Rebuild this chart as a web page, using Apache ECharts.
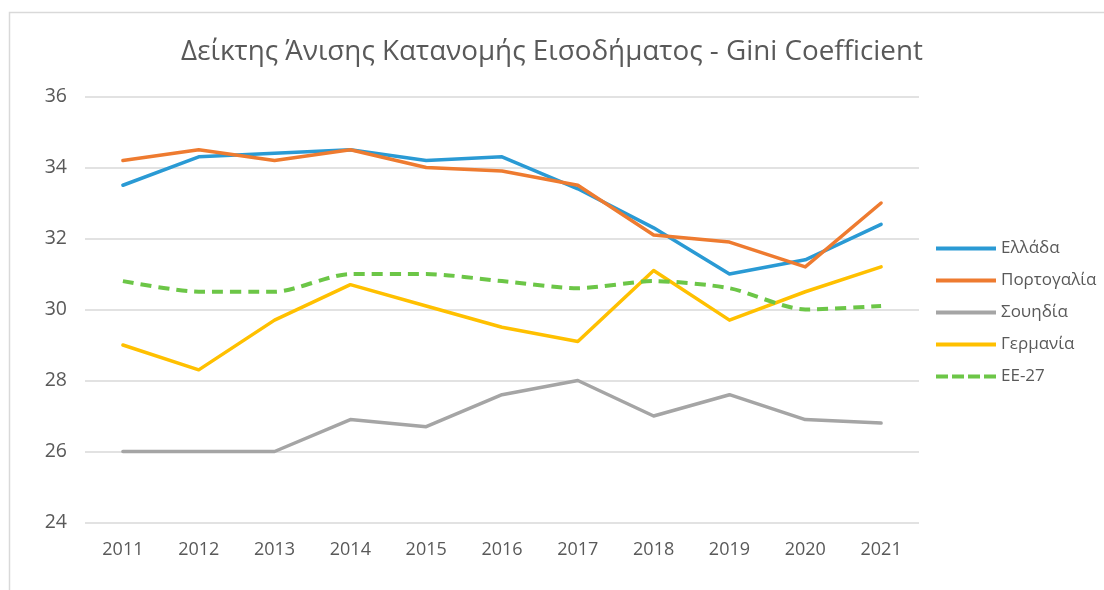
<!DOCTYPE html>
<html>
<head>
<meta charset="utf-8">
<script src="https://cdn.jsdelivr.net/npm/echarts@6/dist/echarts.min.js"></script>
<style>
  html, body { margin: 0; padding: 0; background: #ffffff; }
  #chart { width: 1104px; height: 590px; }
</style>
</head>
<body>
<div id="chart"></div>
<script>
// Gini coefficient of equivalised disposable income, 2011–2021
const years = ['2011', '2012', '2013', '2014', '2015', '2016', '2017', '2018', '2019', '2020', '2021'];
const greece   = [33.5, 34.3, 34.4, 34.5, 34.2, 34.3, 33.4, 32.3, 31.0, 31.4, 32.4];
const portugal = [34.2, 34.5, 34.2, 34.5, 34.0, 33.9, 33.5, 32.1, 31.9, 31.2, 33.0];
const sweden   = [26.0, 26.0, 26.0, 26.9, 26.7, 27.6, 28.0, 27.0, 27.6, 26.9, 26.8];
const germany  = [29.0, 28.3, 29.7, 30.7, 30.1, 29.5, 29.1, 31.1, 29.7, 30.5, 31.2];
const eu27     = [30.8, 30.5, 30.5, 31.0, 31.0, 30.8, 30.6, 30.8, 30.6, 30.0, 30.1];

const seriesNames = ['Ελλάδα', 'Πορτογαλία', 'Σουηδία', 'Γερμανία', 'ΕΕ-27'];
const titleText = 'Δείκτης Άνισης Κατανομής Εισοδήματος - Gini Coefficient';

const FONT = '"Open Sans", "Noto Sans", sans-serif';
const TEXT = '#595959';

// legend keys: a thick solid bar, and a four-dash bar for the dashed series
const SOLID_KEY = 'path://M0,0h60v4h-60z';
const DASH_KEY = 'path://M0,0h12v4h-12z M16,0h12v4h-12z M32,0h12v4h-12z M48,0h12v4h-12z';

function lineSeries(name, data, color, extra) {
  return Object.assign({
    name: name,
    type: 'line',
    data: data,
    symbol: 'none',
    lineStyle: { color: color, width: 3.5, cap: 'round', join: 'round' },
    itemStyle: { color: color },
    emphasis: { disabled: true },
    z: 3
  }, extra || {});
}

const chart = echarts.init(document.getElementById('chart'), null, { renderer: 'canvas' });

chart.setOption({
  animation: false,
  backgroundColor: '#ffffff',
  textStyle: { fontFamily: FONT },
  graphic: [{
    type: 'rect',
    shape: { x: 9.5, y: 12.5, width: 1200, height: 700 },
    style: { fill: null, stroke: '#d9d9d9', lineWidth: 1.5 },
    silent: true
  }],
  title: {
    text: titleText,
    left: 'center',
    top: 33,
    textStyle: { fontFamily: FONT, fontSize: 27.8, fontWeight: 'normal', color: TEXT }
  },
  legend: {
    orient: 'vertical',
    left: 936,
    top: 240,
    padding: 0,
    itemWidth: 60,
    itemHeight: 4,
    itemGap: 15,
    data: seriesNames.map((n, i) => ({ name: n, icon: i === 4 ? DASH_KEY : SOLID_KEY })),
    itemStyle: { borderWidth: 0 },
    lineStyle: { width: 0, opacity: 0 },
    textStyle: { fontFamily: FONT, fontSize: 17, lineHeight: 16, color: TEXT }
  },
  grid: { left: 85, right: 185, top: 96.5, bottom: 67.5, containLabel: false },
  xAxis: {
    type: 'category',
    data: years,
    boundaryGap: true,
    axisLine: { show: false },
    axisTick: { show: false },
    axisLabel: { color: TEXT, fontSize: 18, fontFamily: FONT, margin: 18 }
  },
  yAxis: {
    type: 'value',
    min: 24,
    max: 36,
    interval: 2,
    axisLine: { show: false },
    axisTick: { show: false },
    axisLabel: { color: TEXT, fontSize: 19.5, fontFamily: FONT, margin: 18 },
    splitLine: { lineStyle: { color: '#d9d9d9', width: 1.5 } }
  },
  series: [
    lineSeries(seriesNames[0], greece, '#2A9AD4'),
    lineSeries(seriesNames[1], portugal, '#EE7B30'),
    lineSeries(seriesNames[2], sweden, '#A5A5A5'),
    lineSeries(seriesNames[3], germany, '#FFC000'),
    lineSeries(seriesNames[4], eu27, '#6CC647', {
      smooth: 0.25,
      lineStyle: { color: '#6CC647', width: 4, type: [11, 7], cap: 'butt', join: 'round' }
    })
  ]
});
</script>
</body>
</html>
